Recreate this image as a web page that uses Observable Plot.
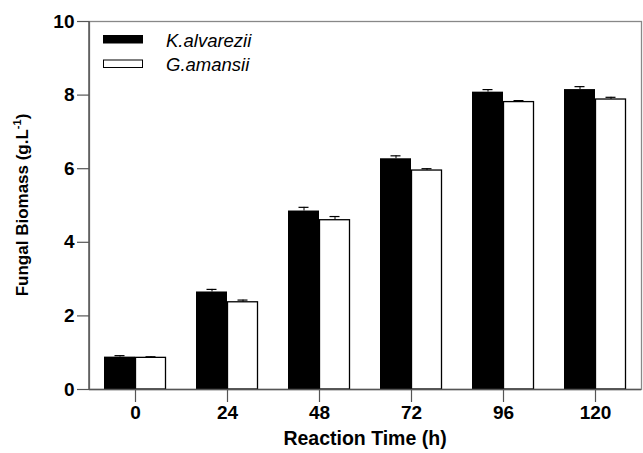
<!DOCTYPE html>
<html>
<head>
<meta charset="utf-8">
<script src="https://cdn.jsdelivr.net/npm/d3@7"></script>
<script src="https://cdn.jsdelivr.net/npm/@observablehq/plot@0.6"></script>
<style>
  html, body { margin: 0; padding: 0; background: #fff; overflow: hidden; }
  #chart { position: relative; width: 643px; height: 453px; }
  #chart svg { display: block; max-width: none !important; }
</style>
</head>
<body>
<div id="chart"></div>
<script>
const times = ["0", "24", "48", "72", "96", "120"];
const series = ["K.alvarezii", "G.amansii"];
const kValues = [0.88, 2.65, 4.85, 6.27, 8.08, 8.15];
const kErrors = [0.04, 0.07, 0.10, 0.08, 0.07, 0.08];
const gValues = [0.86, 2.37, 4.60, 5.95, 7.81, 7.88];
const gErrors = [0.03, 0.06, 0.10, 0.05, 0.04, 0.06];
const yTicks = [0, 2, 4, 6, 8, 10];

const kData = times.map((t, i) => ({time: t, value: kValues[i], err: kErrors[i]}));
const gData = times.map((t, i) => ({time: t, value: gValues[i], err: gErrors[i]}));

const axisColor = "#555";
const FONT = "Liberation Sans, Arial, Helvetica, sans-serif";

const plot = Plot.plot({
  width: 643,
  height: 453,
  marginLeft: 89,
  marginRight: 2,
  marginTop: 21,
  marginBottom: 64,
  style: {fontFamily: FONT, fontSize: "19px", fontWeight: "bold", color: "#000", background: "#fff"},
  x: {domain: times, padding: 0, label: null},
  y: {domain: [0, 10], label: null},
  marks: [
    Plot.frame({stroke: "#888", strokeWidth: 1.3}),
    // K bars (black)
    Plot.barY(kData, {x: "time", y: "value", fill: "#000", insetLeft: 15, insetRight: 46}),
    // G bars (white, outlined)
    Plot.barY(gData, {x: "time", y: "value", fill: "#fff", stroke: "#000", strokeWidth: 1.3, insetLeft: 46.5, insetRight: 15.5}),
    // error bars
    Plot.ruleX(kData, {x: "time", y1: "value", y2: d => d.value + d.err, dx: -15.5, stroke: "#000", strokeWidth: 1}),
    Plot.tickY(kData, {x: "time", y: d => d.value + d.err, insetLeft: 25.5, insetRight: 56.5, stroke: "#000", strokeWidth: 1.2}),
    Plot.ruleX(gData, {x: "time", y1: "value", y2: d => d.value + d.err, dx: 15.5, stroke: "#000", strokeWidth: 1}),
    Plot.tickY(gData, {x: "time", y: d => d.value + d.err, insetLeft: 56.5, insetRight: 25.5, stroke: "#000", strokeWidth: 1.2}),
    // axes
    Plot.axisY({ticks: yTicks, tickSize: 12, tickPadding: 3, stroke: axisColor, strokeWidth: 1.2, label: null, fill: "#000", fontSize: 19}),
    Plot.axisX({tickSize: 13, tickPadding: 3, stroke: axisColor, strokeWidth: 1.2, label: null, fill: "#000", fontSize: 19}),
    Plot.ruleY([0], {stroke: axisColor, strokeWidth: 1.5})
  ]
});

document.getElementById("chart").appendChild(plot);

const svg = d3.select(plot);

// left axis line
svg.append("line").attr("x1", 89).attr("x2", 89).attr("y1", 21).attr("y2", 389)
  .attr("stroke", axisColor).attr("stroke-width", 1.5);

// axis titles
svg.append("text")
  .attr("x", 365).attr("y", 445)
  .attr("text-anchor", "middle")
  .attr("font-family", FONT)
  .attr("font-size", 19.5).attr("font-weight", "bold").attr("fill", "#000")
  .text("Reaction Time (h)");

const yl = svg.append("text")
  .attr("transform", "translate(28,205) rotate(-90)")
  .attr("text-anchor", "middle")
  .attr("font-family", FONT)
  .attr("font-size", 17).attr("font-weight", "bold").attr("fill", "#000");
yl.append("tspan").text("Fungal Biomass (g.L");
yl.append("tspan").attr("font-size", 11).attr("dy", -7).text("-1");
yl.append("tspan").attr("dy", 7).text(")");

// legend
const legend = svg.append("g");
series.forEach((s, i) => {
  const y = 35.5 + i * 24.5;
  legend.append("rect").attr("x", 103.5).attr("y", y).attr("width", 39).attr("height", 7.5)
    .attr("fill", i === 0 ? "#000" : "#fff").attr("stroke", "#000").attr("stroke-width", 1);
  legend.append("text").attr("x", 166).attr("y", y + 11)
    .attr("text-anchor", "start")
    .attr("font-family", FONT)
    .attr("font-size", 18.5).attr("font-style", "italic").attr("font-weight", "normal").attr("fill", "#000")
    .text(s);
});
</script>
</body>
</html>
